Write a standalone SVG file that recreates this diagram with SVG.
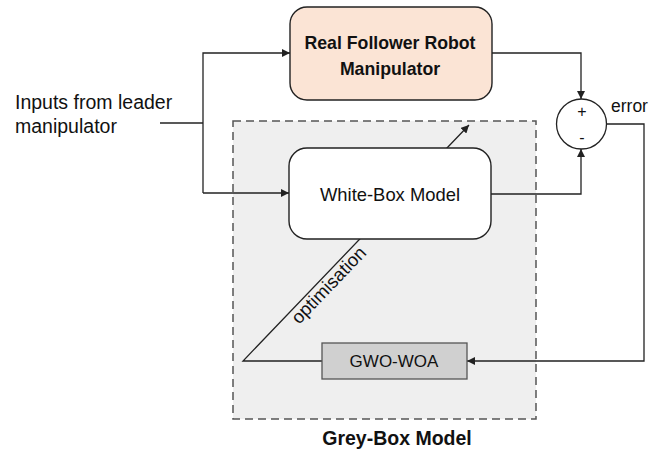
<svg xmlns="http://www.w3.org/2000/svg" width="651" height="451" viewBox="0 0 651 451">
  <style>
    .wire { fill: none; stroke: #222; stroke-width: 1.3; }
    .lbl { font-family: "Liberation Sans", Arial, sans-serif; fill: #111; }
    .node { stroke: #222; stroke-width: 1.4; }
  </style>
  <defs>
    <marker id="arrow" viewBox="0 0 10 10" refX="10" refY="5" markerWidth="8" markerHeight="8" markerUnits="userSpaceOnUse" orient="auto">
      <path d="M0,0 L10,5 L0,10 Z" fill="#222"/>
    </marker>
  </defs>
  <rect width="651" height="451" fill="#fff"/>

  <!-- grey-box container -->
  <g id="grey-box">
    <rect x="233" y="121" width="303" height="298" fill="#efefef" stroke="#555" stroke-width="1.5" stroke-dasharray="8 5"/>
    <text class="lbl" x="397" y="445" font-size="19.5" font-weight="bold" text-anchor="middle">Grey-Box Model</text>
  </g>

  <!-- connectors -->
  <g id="connectors">
    <path class="wire" d="M160,123 H203"/>
    <path class="wire" d="M203,193 V53 H290" marker-end="url(#arrow)"/>
    <path class="wire" d="M203,193 H289" marker-end="url(#arrow)"/>
    <path class="wire" d="M492,53 H581 V99" marker-end="url(#arrow)"/>
    <path class="wire" d="M491,194 H581 V149" marker-end="url(#arrow)"/>
    <path class="wire" d="M606,124 H644 V361 H467" marker-end="url(#arrow)"/>
    <path class="wire" d="M322,361 H243 L469,125" marker-end="url(#arrow)"/>
    <text class="lbl" font-size="18.5" transform="translate(299,325) rotate(-46.2)">optimisation</text>
  </g>

  <g id="inputs">
    <text class="lbl" x="15" y="109" font-size="19.5">Inputs from leader</text>
    <text class="lbl" x="15" y="133" font-size="19.5">manipulator</text>
  </g>

  <g id="real-robot">
    <rect class="node" x="290" y="7" width="202" height="93" rx="17" fill="#fbe4d5"/>
    <text class="lbl" x="390" y="49" font-size="17.7" font-weight="bold" text-anchor="middle">Real Follower Robot</text>
    <text class="lbl" x="390" y="75" font-size="17.7" font-weight="bold" text-anchor="middle">Manipulator</text>
  </g>

  <g id="white-box">
    <rect class="node" x="289" y="148" width="202" height="91" rx="18" fill="#fff"/>
    <text class="lbl" x="390" y="201" font-size="18.4" text-anchor="middle">White-Box Model</text>
  </g>

  <g id="gwo-woa">
    <rect x="322" y="343" width="145" height="36" fill="#d0d0d0" stroke="#555" stroke-width="1.3"/>
    <text class="lbl" x="394" y="367" font-size="17" text-anchor="middle">GWO-WOA</text>
  </g>

  <g id="summing-junction">
    <circle cx="581.5" cy="124" r="25" fill="#fff" stroke="#222" stroke-width="1.3"/>
    <text class="lbl" x="582" y="117" font-size="16" text-anchor="middle">+</text>
    <text class="lbl" x="582" y="143" font-size="16" text-anchor="middle">-</text>
    <text class="lbl" x="611" y="112" font-size="17.5">error</text>
  </g>
</svg>
